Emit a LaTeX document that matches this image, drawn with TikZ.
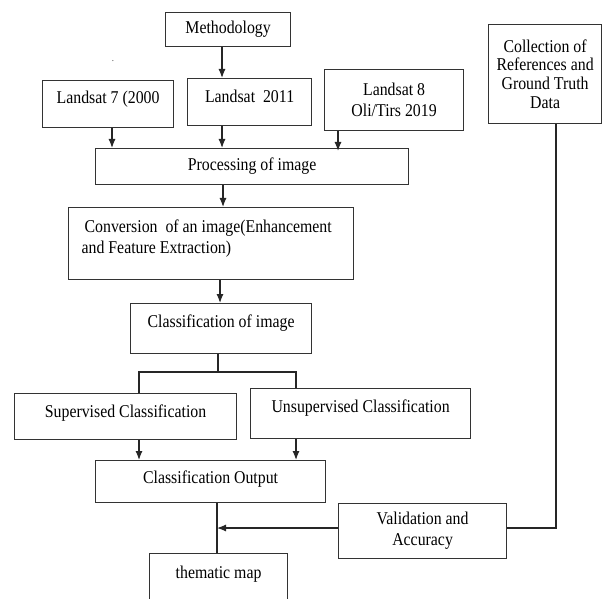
\documentclass[tikz,border=0pt]{standalone}
\usepackage{fontspec}
\setmainfont{Liberation Serif}[FakeStretch=0.88]
\usetikzlibrary{arrows.meta}
\begin{document}
\begin{tikzpicture}[x=1pt,y=-1pt,
  box/.style={draw=black!80, line width=1.2pt, inner sep=0pt, anchor=north west,
    font=\fontsize{18}{21}\selectfont, text=black},
  arr/.style={draw=black!85, line width=1.2pt, -{Latex[length=9pt,width=7pt]}},
  ln/.style={draw=black!85, line width=1.2pt}]
\useasboundingbox (0,0) rectangle (603,599);

\node[box, minimum width=125pt, minimum height=34pt] (meth) at (165,12) {Methodology};
\node[anchor=base, inner sep=0pt, font=\fontsize{10}{12}\selectfont, text=black!70] (dot) at (113,62) {.};

\node[box, minimum width=131pt, text height=23pt, text depth=24pt] (l7) at (42,80) {Landsat 7 (2000};
\node[box, minimum width=124pt, text height=24pt, text depth=23pt] (l11) at (187,78) {Landsat\ \ 2011};
\node[box, minimum width=139pt, minimum height=61pt, align=center] (l8) at (324,69) {Landsat 8\\Oli/Tirs 2019};
\node[box, minimum width=113pt, minimum height=99pt, align=center,
  font=\fontsize{18}{18.7}\selectfont] (coll) at (488,24) {Collection of\\References and\\Ground Truth\\Data};

\node[box, minimum width=313pt, minimum height=36pt] (proc) at (95,148) {Processing of image};

\node[box] (conv) at (68,207) {\parbox[c][72pt][t]{285pt}{\vspace*{12.7pt}\hspace*{16pt}Conversion\ \ of an image(Enhancement\\\hspace*{13pt}and Feature Extraction)}};

\node[box, minimum width=181pt, text height=24pt, text depth=26pt] (cls) at (130,303) {Classification of image};

\node[box, minimum width=222pt, text height=24pt, text depth=22pt] (sup) at (14,393) {Supervised Classification};
\node[box, minimum width=220pt, text height=24pt, text depth=26pt] (unsup) at (250,388) {Unsupervised Classification};

\node[box, minimum width=230pt, text height=23pt, text depth=19pt] (out) at (95,460) {Classification Output};

\node[box, minimum width=168pt, minimum height=55pt, align=center] (val) at (338,503) {Validation and\\Accuracy};

\node[box, minimum width=138pt, text height=25pt, text depth=27pt] (them) at (149,553) {thematic map};

\coordinate (c1) at (222,0);
\coordinate (c2) at (112,0);
\coordinate (c3) at (338,0);
\coordinate (c4) at (223,0);
\coordinate (c5) at (220,0);
\coordinate (split) at (218,372);
\coordinate (sx) at (139,0);
\coordinate (ux) at (296,0);
\coordinate (j) at (217,528);
\coordinate (cx) at (556,0);

\draw[arr] (meth.south -| c1) -- (l11.north -| c1);
\draw[arr] (l7.south -| c2) -- (proc.north -| c2);
\draw[arr] (l11.south -| c1) -- (proc.north -| c1);
\draw[arr] (l8.south -| c3) -- ([yshift=-3pt]proc.north -| c3);
\draw[arr] (proc.south -| c4) -- (conv.north -| c4);
\draw[arr] (conv.south -| c5) -- (cls.north -| c5);

\draw[ln] (cls.south -| split) -- (split);
\draw[ln] (sup.north -| sx) |- (split) -| (unsup.north -| ux);

\draw[arr] (sup.south -| sx) -- (out.north -| sx);
\draw[arr] (unsup.south -| ux) -- (out.north -| ux);

\draw[ln] (out.south -| j) -- (them.north -| j);
\draw[arr] (val.west |- j) -- (j);
\draw[ln] (coll.south -| cx) |- (val.east |- j);
\end{tikzpicture}
\end{document}
